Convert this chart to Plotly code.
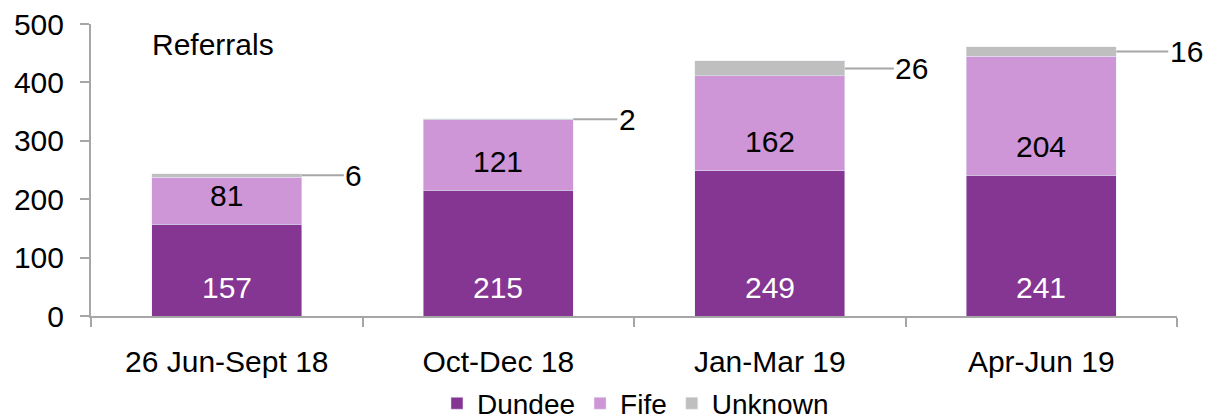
import plotly.graph_objects as go

categories = ["26 Jun-Sept 18", "Oct-Dec 18", "Jan-Mar 19", "Apr-Jun 19"]
dundee = [157, 215, 249, 241]
fife = [81, 121, 162, 204]
unknown = [6, 2, 26, 16]

FONT = "Liberation Sans, Arial, sans-serif"
FS = 30
C_DUNDEE = "#853592"
C_FIFE = "#CE96D6"
C_UNK = "#BFBFBF"
AXIS = "#A6A6A6"
BARGAP = 0.447

fig = go.Figure()
fig.add_trace(go.Bar(name="Dundee", x=categories, y=dundee, marker_color=C_DUNDEE))
fig.add_trace(go.Bar(name="Fife", x=categories, y=fife, marker_color=C_FIFE))
fig.add_trace(go.Bar(name="Unknown", x=categories, y=unknown, marker_color=C_UNK))

# inside-base labels
for i, (d, f) in enumerate(zip(dundee, fife)):
    fig.add_annotation(x=categories[i], y=0, xref="x", yref="y", text=str(d),
                       showarrow=False, yanchor="middle", yshift=29,
                       font=dict(size=FS, color="white", family=FONT))
    fig.add_annotation(x=categories[i], y=d, xref="x", yref="y", text=str(f),
                       showarrow=False, yanchor="middle", yshift=29,
                       font=dict(size=FS, color="black", family=FONT))

half = (1 - BARGAP) / 2
offsets = [52, 54, 67, 70]
for i, (d, f, u) in enumerate(zip(dundee, fife, unknown)):
    fig.add_annotation(
        x=i + half, y=d + f + u / 2, xref="x", yref="y",
        text=str(u), showarrow=True, arrowhead=0, arrowwidth=2,
        arrowcolor=AXIS, ax=offsets[i], ay=0, standoff=0,
        font=dict(size=FS, color="black", family=FONT),
    )

fig.add_annotation(
    x=0.054, y=0.93, xref="paper", yref="paper", text="Referrals",
    showarrow=False, xanchor="left", yanchor="middle",
    font=dict(size=FS, color="black", family=FONT),
)

fig.update_layout(
    barmode="stack", bargap=BARGAP,
    width=1209, height=412,
    margin=dict(l=83, r=40, t=16, b=104),
    plot_bgcolor="white", paper_bgcolor="white",
    font=dict(family=FONT, size=FS, color="black"),
    showlegend=True,
    legend=dict(orientation="h", x=0.519, xanchor="center", xref="container",
                y=0.04, yanchor="middle", yref="container",
                font=dict(size=28, color="black"),
                traceorder="normal"),
    xaxis=dict(range=[-0.5, len(categories) - 0.5],
               showline=True, linecolor=AXIS, linewidth=2, ticks="outside",
               tickson="boundaries", ticklen=9, tickcolor=AXIS, tickwidth=2,
               showgrid=False, automargin=False, ticklabelstandoff=18,
               ticklabeloverflow="allow",
               tickfont=dict(size=FS, color="black")),
    yaxis=dict(range=[0, 500], dtick=100, showline=True, linecolor=AXIS,
               linewidth=2, ticks="outside", ticklen=9, tickcolor=AXIS,
               tickwidth=2, showgrid=False, zeroline=False, automargin=False,
               ticklabelstandoff=10, ticklabeloverflow="allow",
               tickfont=dict(size=FS, color="black")),
)

fig.write_html("out.html")
